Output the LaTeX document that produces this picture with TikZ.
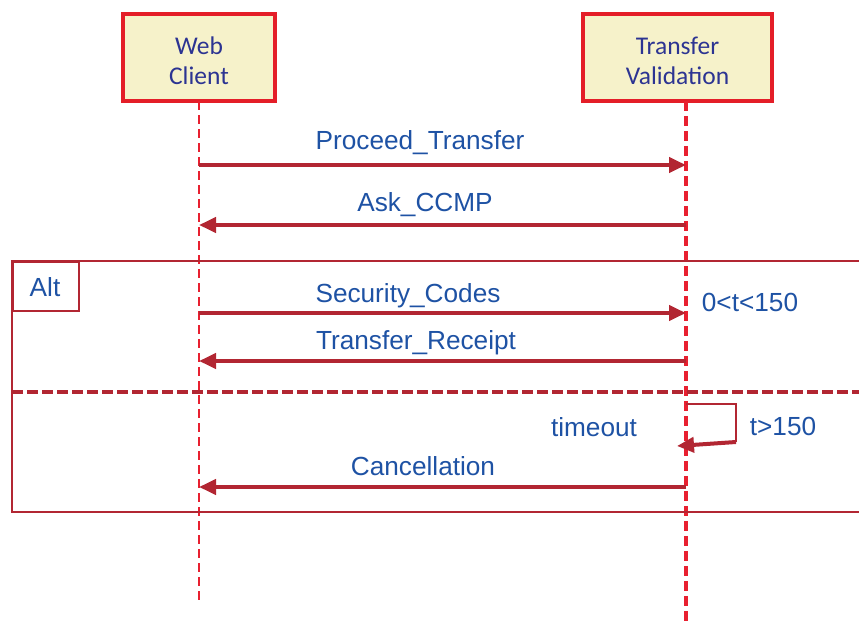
\documentclass[tikz,border=0pt]{standalone}
\usepackage{fontspec}
\setmainfont{Liberation Sans}
\newfontfamily\boxfont{Carlito}
\usetikzlibrary{arrows.meta}

\definecolor{msgred}{RGB}{178,38,50}
\definecolor{lifered}{RGB}{232,32,48}
\definecolor{boxred}{RGB}{228,30,40}
\definecolor{boxfill}{RGB}{246,242,202}
\definecolor{boxtext}{RGB}{44,52,146}
\definecolor{labelblue}{RGB}{30,82,164}

\tikzset{
  actor/.style={draw=boxred, line width=4pt, fill=boxfill, inner sep=0pt,
    minimum height=87pt},
  actortext/.style={text=boxtext, align=center, inner sep=0pt, yshift=-3pt,
    font=\boxfont\fontsize{25.5}{30}\selectfont},
  lifeline/.style={draw=lifered, dash pattern=on 9pt off 5pt},
  msg/.style={draw=msgred, line width=4pt,
    -{Triangle[length=17pt,width=15pt]}},
  lbl/.style={text=labelblue, anchor=base, inner sep=0pt,
    font=\fontsize{26.2}{30}\selectfont},
  frameline/.style={draw=msgred, line width=2pt},
}

\begin{document}
\begin{tikzpicture}[x=1pt,y=-1pt]
\useasboundingbox (0,0) rectangle (859,626);

% participants
\node[actor, minimum width=152pt,
      label={[actortext]center:Web\\Client}] (wc) at (199,57.5) {};
\node[actor, minimum width=189pt,
      label={[actortext]center:Transfer\\Validation}] (tv) at (677.5,57.5) {};

% lifelines
\coordinate (wcTop) at (199,101);
\coordinate (wcEnd) at (199,602);
\coordinate (tvTop) at (686,101);
\coordinate (tvEnd) at (686,626);
\draw[lifeline, line width=2.2pt] (wcTop) -- (wcEnd);
\draw[lifeline, line width=3.2pt, dash pattern=on 10pt off 5pt] (tvTop) -- (tvEnd);

% message end points on the lifelines
\coordinate (wc1) at (199,165);  \coordinate (tv1) at (686,165);
\coordinate (wc2) at (199,225);  \coordinate (tv2) at (686,225);
\coordinate (wc3) at (199,313);  \coordinate (tv3) at (686,313);
\coordinate (wc4) at (199,361);  \coordinate (tv4) at (686,361);
\coordinate (wc5) at (199,487);  \coordinate (tv5) at (686,487);

% alt fragment
\coordinate (frTL) at (12,261);
\coordinate (frTR) at (859,261);
\coordinate (frBL) at (12,512);
\coordinate (frBR) at (859,512);
\draw[frameline] (frTR) -- (frTL) -- (frBL) -- (frBR);
\node[frameline, draw, anchor=north west, minimum width=66pt, minimum height=49pt,
      inner sep=0pt] (altTag) at (frTL) {};
\node[lbl] (altLbl) at (45,296) {Alt};
\coordinate (sepL) at (12,392);
\coordinate (sepR) at (859,392);
\draw[draw=msgred, line width=3.2pt, dash pattern=on 11pt off 4pt] (sepL) -- (sepR);

% messages
\draw[msg] (wc1) -- (tv1);
\node[lbl] (m1) at (420,149) {Proceed\_Transfer};
\draw[msg] (tv2) -- (wc2);
\node[lbl] (m2) at (425,211) {Ask\_CCMP};
\draw[msg] (wc3) -- (tv3);
\node[lbl] (m3) at (408,302) {Security\_Codes};
\draw[msg] (tv4) -- (wc4);
\node[lbl] (m4) at (416,349) {Transfer\_Receipt};
\node[lbl] (g1) at (750,311) {0<t<150};

% timeout self message
\coordinate (sTop) at (686,404);
\coordinate (sRT) at (736,404);
\coordinate (sRB) at (736,442);
\coordinate (sEnd) at (677,446);
\draw[draw=msgred, line width=2pt] (sTop) -- (sRT) -- (sRB);
\draw[msg] (sRB) -- (sEnd);
\node[lbl] (to) at (594,436) {timeout};
\node[lbl] (g2) at (783,435) {t>150};

\draw[msg] (tv5) -- (wc5);
\node[lbl] (m5) at (423,475) {Cancellation};
\end{tikzpicture}
\end{document}
